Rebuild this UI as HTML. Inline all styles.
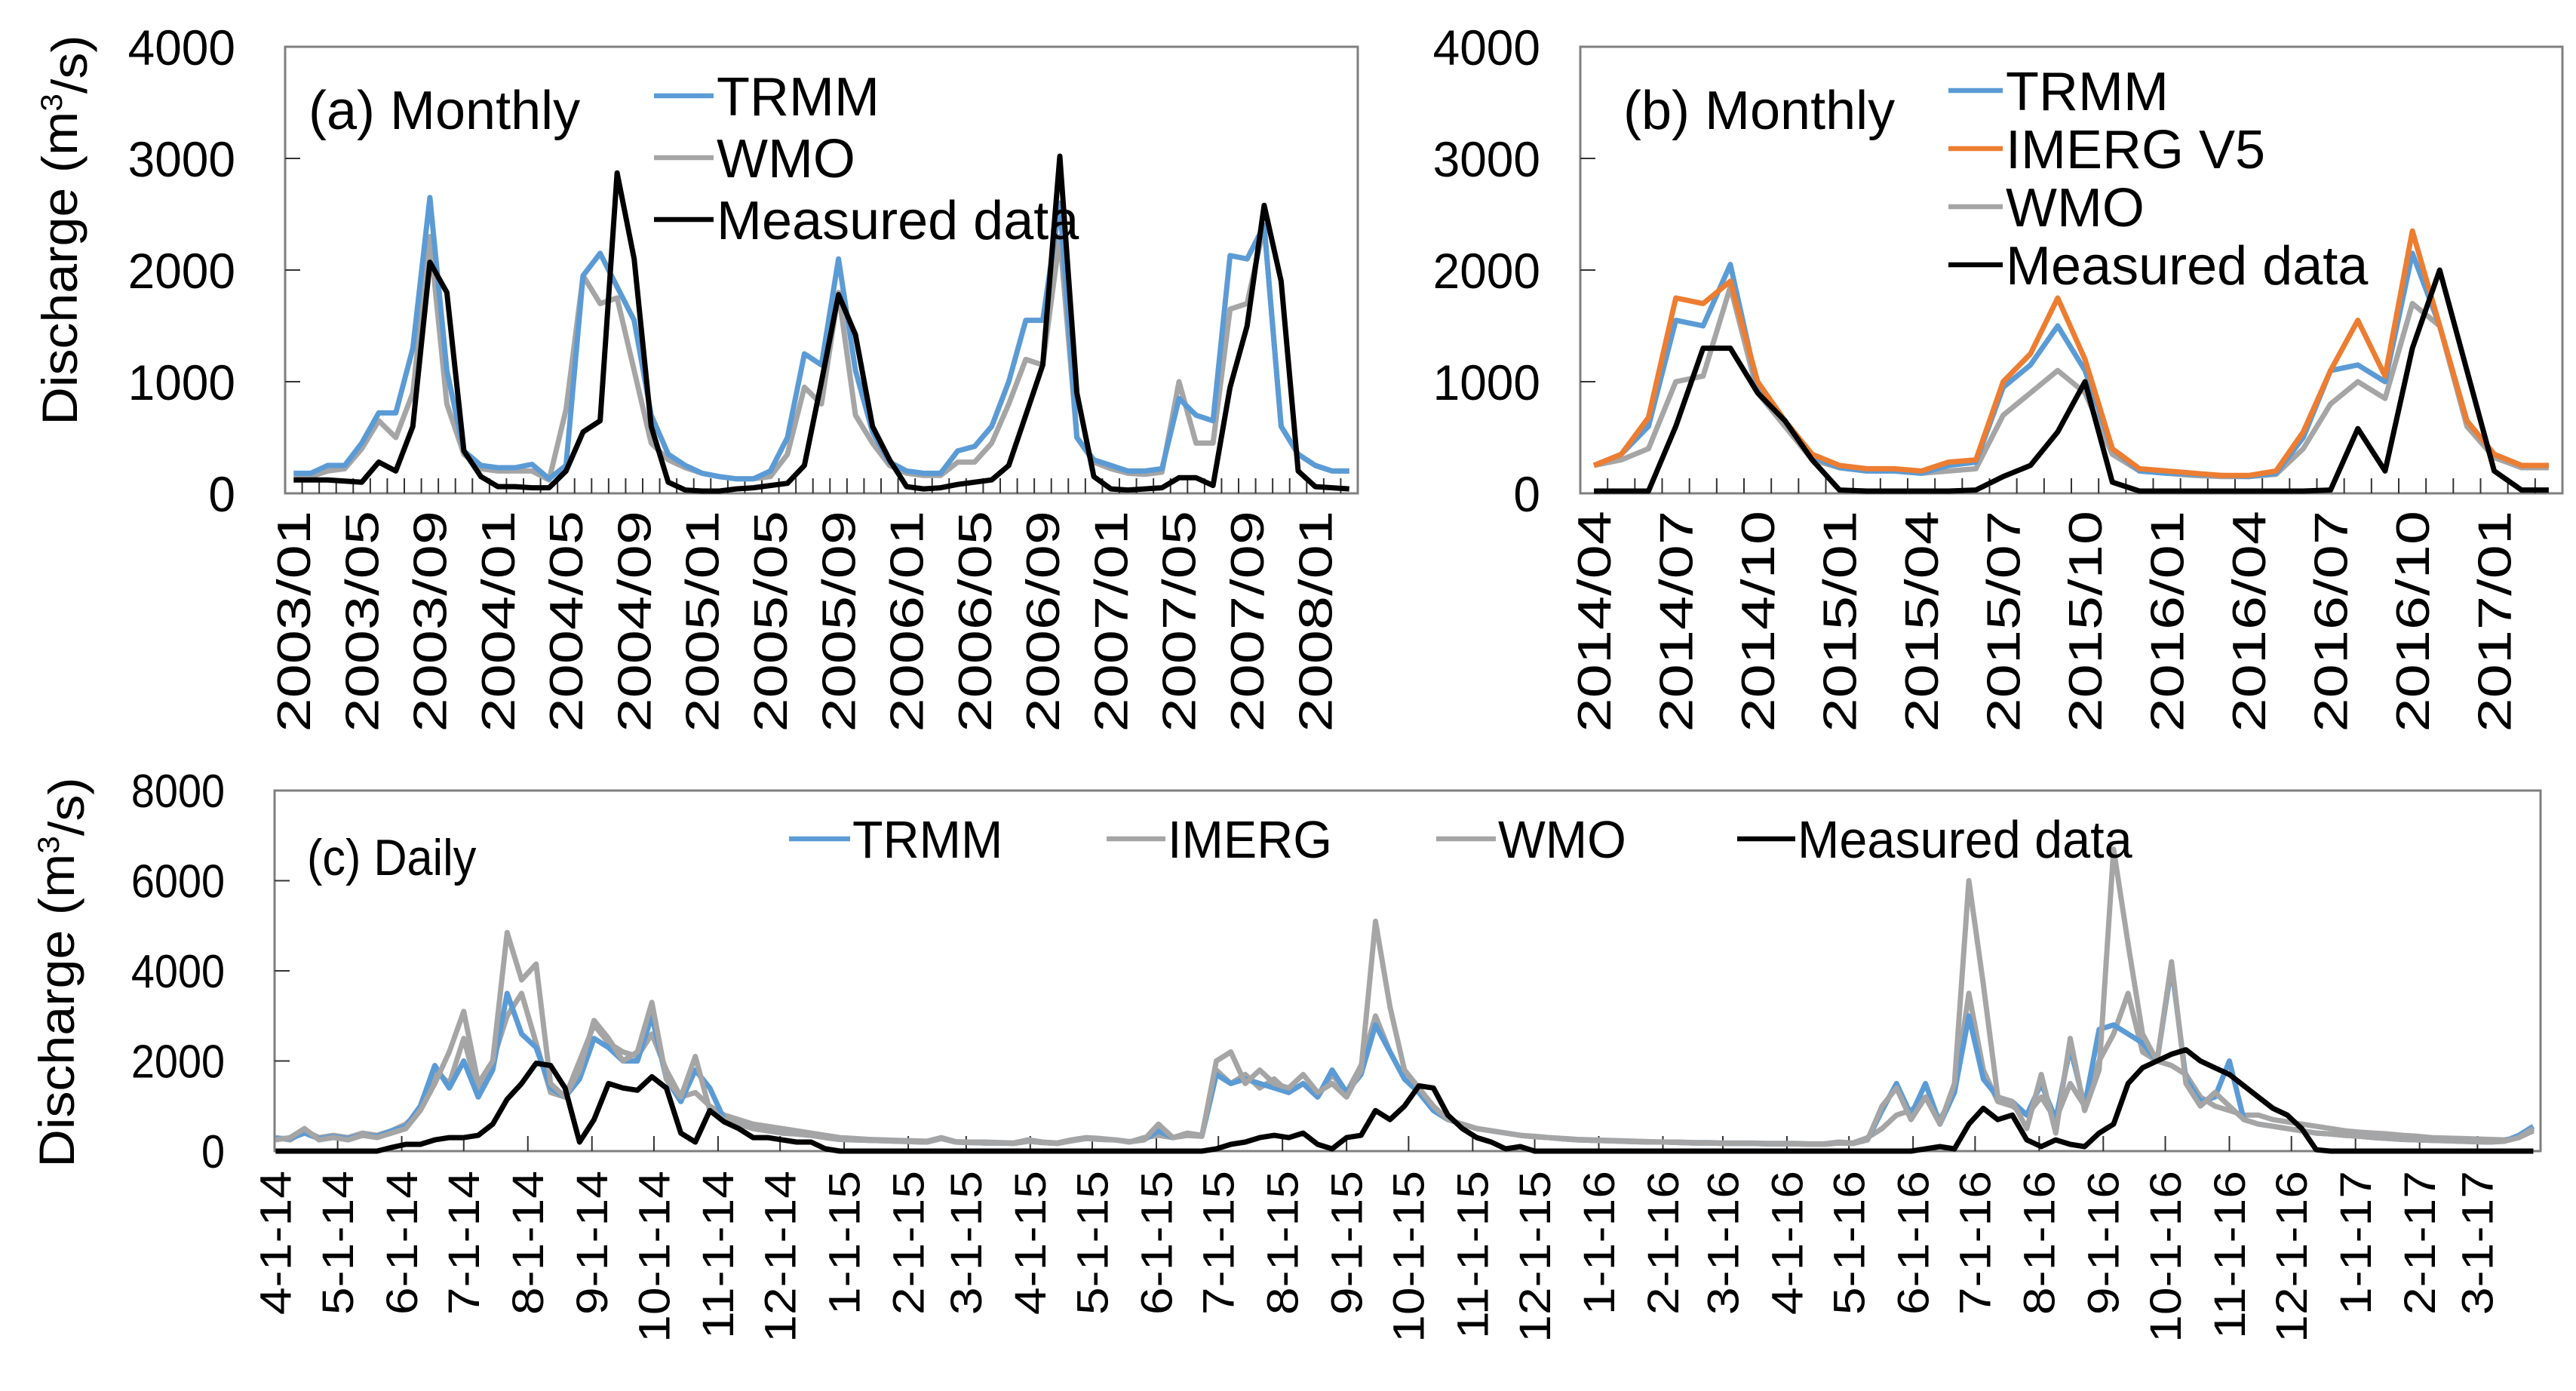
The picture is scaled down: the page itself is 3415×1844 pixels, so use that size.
<!DOCTYPE html>
<html><head><meta charset="utf-8"><title>Discharge comparison</title>
<style>
html,body{margin:0;padding:0;background:#fff;}
svg{display:block;font-family:"Liberation Sans",Arial,sans-serif;}
</style></head>
<body>
<svg id="fig" width="3415" height="1844" viewBox="0 0 3415 1844" xmlns="http://www.w3.org/2000/svg"></svg>
<script>
// ---------- Panel (a) monthly 2003/01 - 2008/03 ----------
const aMonths = ["2003/01","2003/05","2003/09","2004/01","2004/05","2004/09","2005/01","2005/05","2005/09","2006/01","2006/05","2006/09","2007/01","2007/05","2007/09","2008/01"];
const aTRMM = [180,180,250,250,450,720,720,1300,2650,1100,380,250,
 230,230,260,130,250,1950,2150,1850,1550,700,350,250,
 180,150,130,130,200,500,1250,1150,2100,1100,550,280,
 200,180,180,380,420,600,1000,1550,1550,2600,500,300,
 250,200,200,220,850,700,650,2130,2100,2400,600,350,250,200,200];
const aWMO = [150,150,200,220,400,650,500,900,2300,800,350,220,
 200,200,200,120,750,1950,1700,1750,1100,450,300,230,
 180,150,130,130,150,350,950,800,1800,700,450,250,
 180,160,160,280,280,450,800,1200,1150,2300,500,280,
 220,180,170,190,1000,450,450,1650,1700,2400,600,350,250,200,200];
const aMeasured = [120,120,120,110,100,280,200,600,2070,1800,380,150,
 60,60,50,50,200,550,650,2870,2100,600,100,30,
 20,20,40,50,70,90,250,1000,1780,1420,600,300,
 60,40,50,80,100,120,250,700,1150,3020,900,150,
 40,30,40,50,140,140,70,950,1500,2580,1900,200,60,50,40];
const aYTicks = [0,1000,2000,3000,4000];

// ---------- Panel (b) monthly 2014/04 - 2017/03 ----------
const bMonths = ["2014/04","2014/07","2014/10","2015/01","2015/04","2015/07","2015/10","2016/01","2016/04","2016/07","2016/10","2017/01"];
const bTRMM = [250,350,600,1550,1500,2050,950,650,330,230,200,200,180,250,280,950,1150,1500,1100,400,200,180,170,160,150,180,500,1100,1150,1000,2150,1500,650,350,250,250];
const bIMERG = [250,350,680,1750,1700,1900,1000,650,350,250,220,220,200,280,300,1000,1250,1750,1200,400,220,200,180,160,160,200,550,1100,1550,1050,2350,1500,650,350,250,250];
const bWMO = [250,300,400,1000,1050,1850,900,600,300,230,200,200,180,200,220,700,900,1100,900,350,200,180,160,150,150,170,400,800,1000,850,1700,1500,600,320,230,230];
const bMeasured = [20,20,20,600,1300,1300,900,650,300,30,20,20,20,20,30,150,250,550,1000,100,20,20,20,20,20,20,20,30,580,200,1300,2000,1100,200,30,30];

// ---------- Panel (c) daily (weekly samples) 2014-04-01 - 2017-03-31 ----------
const cMonthLabels = ["4-1-14","5-1-14","6-1-14","7-1-14","8-1-14","9-1-14","10-1-14","11-1-14","12-1-14","1-1-15","2-1-15","3-1-15","4-1-15","5-1-15","6-1-15","7-1-15","8-1-15","9-1-15","10-1-15","11-1-15","12-1-15","1-1-16","2-1-16","3-1-16","4-1-16","5-1-16","6-1-16","7-1-16","8-1-16","9-1-16","10-1-16","11-1-16","12-1-16","1-1-17","2-1-17","3-1-17"];
const cMonthDays = [0,30,61,91,122,153,183,214,244,275,306,334,365,395,426,456,487,518,548,579,609,640,671,700,731,761,792,822,853,884,914,945,975,1006,1037,1065];
const cTRMM = [280,280,400,280,320,280,350,330,
 450,550,1000,1900,1400,2000,1200,1800,3500,2600,2300,1400,1200,1600,2500,2300,2000,2000,3000,1600,1100,1800,1400,700,600,500,450,400,380,350,300,
 260,250,240,230,220,210,200,280,200,190,180,180,170,220,190,170,230,280,260,250,210,250,450,300,350,330,
 1700,1500,1600,1500,1400,1300,1500,1200,1800,1300,1700,2800,2200,1600,1300,900,700,600,500,450,400,350,
 320,300,270,250,240,230,220,210,200,200,190,180,180,170,170,170,160,160,160,150,150,180,170,250,900,1500,800,
 1500,600,1300,3000,1600,1200,1100,800,1500,700,2300,1000,2700,2800,2600,2400,2000,4100,1600,1100,1200,2000,700,600,550,500,450,400,
 380,350,330,300,280,260,250,240,230,220,210,200,220,350,550];
const cIMERG = [250,300,500,250,300,250,350,300,
 400,500,900,1500,2200,3100,1500,2000,4850,3800,4150,1500,1200,1800,2900,2500,2000,2200,3300,1600,1200,2100,900,700,600,500,450,400,380,350,300,
 260,250,240,230,220,210,200,280,200,190,180,180,170,220,190,170,230,280,260,250,210,250,600,300,350,330,
 2000,2200,1500,1800,1500,1400,1700,1300,1500,1200,1800,5100,3200,1800,1400,1000,700,600,500,450,400,350,
 320,300,270,250,240,230,220,210,200,200,190,180,180,170,170,170,160,160,160,150,150,180,170,250,1000,1400,700,
 1200,600,1500,6000,3700,1200,1100,500,1700,400,2500,900,1800,6700,4600,2600,2000,4200,1500,1000,1300,1000,700,600,550,500,450,400,
 380,350,330,300,280,260,250,240,230,220,210,200,220,300,500];
const cWMO = [300,250,450,300,350,300,400,350,
 450,600,900,1800,1500,2500,1300,2000,3000,3500,2400,1300,1200,2000,2800,2400,2200,2100,2600,1800,1200,1300,1000,800,700,600,550,500,450,400,350,
 300,280,260,250,240,230,220,300,210,200,200,190,180,250,200,180,250,300,280,250,200,300,350,300,400,350,
 1800,1500,1700,1400,1600,1300,1500,1200,1700,1300,1900,3000,2200,1600,1300,900,700,600,500,450,400,350,
 330,300,280,260,250,240,230,220,210,200,200,190,190,180,180,180,170,170,170,160,160,200,180,300,500,800,900,
 1200,700,1300,3500,1800,1100,1000,800,1200,700,1500,1000,2000,2600,3500,2200,2000,1900,1700,1200,1000,900,800,800,700,650,600,550,
 500,450,420,400,380,350,330,300,290,280,270,260,250,300,450];
const cMeasured = [0,0,0,0,0,0,0,0,
 80,150,150,250,300,300,350,600,1150,1500,1950,1900,1400,200,700,1500,1400,1350,1650,1400,400,200,900,650,500,300,300,250,200,200,50,
 0,0,0,0,0,0,0,0,0,0,0,0,0,0,0,0,0,0,0,0,0,0,0,0,0,0,
 50,150,200,300,350,300,400,150,50,300,350,900,700,1000,1450,1400,800,500,300,200,50,100,
 0,0,0,0,0,0,0,0,0,0,0,0,0,0,0,0,0,0,0,0,0,0,0,0,0,0,0,
 50,100,50,600,950,700,800,250,100,250,150,100,400,600,1500,1850,2000,2150,2250,2000,1850,1700,1450,1200,950,800,500,30,
 0,0,0,0,0,0,0,0,0,0,0,0,0,0,0];
const cYTicks = [0,2000,4000,6000,8000];

const NS = "http://www.w3.org/2000/svg";
const svg = document.getElementById("fig");
const C = {trmm:"#5B9BD5", imerg:"#ED7D31", wmo:"#A5A5A5", meas:"#000000", frame:"#7f7f7f"};

function el(tag, attrs, parent){
  const e = document.createElementNS(NS, tag);
  for (const k in attrs) e.setAttribute(k, attrs[k]);
  (parent || svg).appendChild(e);
  return e;
}
function txt(str, x, y, size, anchor, sx, parent){
  const g = el("g", {transform:`translate(${x},${y}) scale(${sx},1)`}, parent);
  const t = el("text", {x:0, y:0, "font-size":size, "text-anchor":anchor, fill:"#000"}, g);
  t.textContent = str;
  return g;
}
function vtxt(str, x, y, size, sy, parent){
  const g = el("g", {transform:`translate(${x},${y}) rotate(-90) scale(${sy},1)`}, parent);
  const t = el("text", {x:0, y:0, dy:"0.35em", "font-size":size, "text-anchor":"end", fill:"#000"}, g);
  t.textContent = str;
  return g;
}
function line(pts, color, w, parent){
  const p = el("polyline", {points: pts.map(q=>q[0].toFixed(1)+","+q[1].toFixed(1)).join(" "), fill:"none", stroke:color, "stroke-width":w, "stroke-linejoin":"round"}, parent);
  return p;
}

function monthlyPanel(cfg){
  const g = el("g", {});
  
  
  const {L,R,T,B,n} = cfg;
  const W = (R-L)/n;
  const xs = i => L + (i+0.5)*W;
  const ys = v => B - v/4000*(B-T);
  const fr = el("rect", {x:L, y:T, width:R-L, height:B-T, fill:"none", stroke:C.frame, "stroke-width":3}, g);
  
  
  for (let k=1;k<n;k++){
    const tk = el("line", {x1:L+k*W, x2:L+k*W, y1:B, y2:B-20, stroke:"#333", "stroke-width":2}, g);
    
    
  }
  aYTicks.forEach(v=>{
    if (v>0 && v<4000){
      const tk = el("line", {x1:L, x2:L+20, y1:ys(v), y2:ys(v), stroke:"#333", "stroke-width":2}, g);
      
      
    }
    const lab = txt(String(v), cfg.yLabRight, ys(v)+24, 66, "end", 0.97, g);
    
    
  });
  cfg.labels.forEach((s,k)=>{
    const lab = vtxt(s, xs(k*cfg.step), 677, 62, 1.31, g);
    
    
  });
  cfg.series.forEach(s=>{
    const pl = line(s.data.map((v,i)=>[xs(i), ys(v)]), s.color, 7, g);
    
    
  });
  const pt = txt(cfg.title, cfg.titleX, 171, 72, "start", 1, g);
  
  
  cfg.legend.forEach((it,k)=>{
    const y = cfg.legY0 + k*cfg.legDy;
    const lg = el("g", {}, g);
    
    
    el("line", {x1:cfg.legX1, x2:cfg.legX2, y1:y, y2:y, stroke:it.color, "stroke-width":6.5}, lg);
    txt(it.label, cfg.legX2+4, y+26, 72, "start", 1, lg);
  });
  return g;
}

monthlyPanel({name:"panel-a-monthly", L:378, R:1800, T:62, B:654, n:63, step:4, labels:aMonths, yLabRight:312,
  series:[{name:"series-wmo", data:aWMO, color:C.wmo},{name:"series-trmm", data:aTRMM, color:C.trmm},{name:"series-measured", data:aMeasured, color:C.meas}],
  title:"(a) Monthly", titleX:409,
  legend:[{label:"TRMM",color:C.trmm},{label:"WMO",color:C.wmo},{label:"Measured data",color:C.meas}],
  legX1:867, legX2:946, legY0:127, legDy:82});

monthlyPanel({name:"panel-b-monthly", L:2095, R:3397, T:62, B:654, n:36, step:3, labels:bMonths, yLabRight:2042,
  series:[{name:"series-wmo", data:bWMO, color:C.wmo},{name:"series-trmm", data:bTRMM, color:C.trmm},{name:"series-imerg-v5", data:bIMERG, color:C.imerg},{name:"series-measured", data:bMeasured, color:C.meas}],
  title:"(b) Monthly", titleX:2152,
  legend:[{label:"TRMM",color:C.trmm},{label:"IMERG V5",color:C.imerg},{label:"WMO",color:C.wmo},{label:"Measured data",color:C.meas}],
  legX1:2583, legX2:2655, legY0:120, legDy:77});

(function(){
  const g = el("g", {});
  
  
  const L=364, R=3368, T=1048, B=1526, ND=1096, STEP=7;
  const xd = d => L + (d+0.5)*(R-L)/ND;
  const yv = v => B - v/8000*(B-T);
  const fr = el("rect", {x:L, y:T, width:R-L, height:B-T, fill:"none", stroke:C.frame, "stroke-width":3}, g);
  
  
  cMonthDays.forEach((d,k)=>{
    if (k>0){
      const tk = el("line", {x1:xd(d), x2:xd(d), y1:B, y2:B-20, stroke:"#333", "stroke-width":2}, g);
      
      
    }
    const lab = vtxt(cMonthLabels[k], xd(d), 1552, 58, 1.14, g);
    
    
  });
  cYTicks.forEach(v=>{
    if (v>0 && v<8000){
      const tk = el("line", {x1:L, x2:L+20, y1:yv(v), y2:yv(v), stroke:"#333", "stroke-width":2}, g);
      
      
    }
    const lab = txt(String(v), 298, yv(v)+22, 62, "end", 0.9, g);
    
    
  });
  const ser = [{name:"series-wmo", data:cWMO, color:C.wmo},{name:"series-trmm", data:cTRMM, color:C.trmm},{name:"series-imerg", data:cIMERG, color:C.wmo},{name:"series-measured", data:cMeasured, color:C.meas}];
  ser.forEach(s=>{
    const pl = line(s.data.map((v,i)=>[xd(i*STEP), yv(v)]), s.color, 7, g);
    
    
  });
  const pt = txt("(c) Daily", 407, 1160, 68, "start", 0.9, g);
  
  
  const leg = [{label:"TRMM",color:C.trmm,x1:1046,x2:1127},{label:"IMERG",color:C.wmo,x1:1467,x2:1545},{label:"WMO",color:C.wmo,x1:1904,x2:1983},{label:"Measured data",color:C.meas,x1:2303,x2:2380}];
  leg.forEach(it=>{
    const lg = el("g", {}, g);
    
    
    el("line", {x1:it.x1, x2:it.x2, y1:1112, y2:1112, stroke:it.color, "stroke-width":6.5}, lg);
    txt(it.label, it.x2+3, 1137, 70, "start", 0.95, lg);
  });
})();

function yTitle(cx, cy, name){
  const g = el("g", {transform:`translate(${cx},${cy}) rotate(-90) scale(1.06,1)`});
  
  
  const t = el("text", {x:0, y:0, dy:"0.35em", "font-size":66, "text-anchor":"middle", fill:"#000"}, g);
  t.appendChild(document.createTextNode("Discharge (m"));
  const sup = el("tspan", {"font-size":40, dy:"-0.5em"}, t);
  sup.textContent = "3";
  const rest = el("tspan", {dy:"0.5em"}, t);
  rest.textContent = "/s)";
}
yTitle(79, 305, "y-axis-title-a");
yTitle(75, 1289, "y-axis-title-c");
</script>
</body></html>
